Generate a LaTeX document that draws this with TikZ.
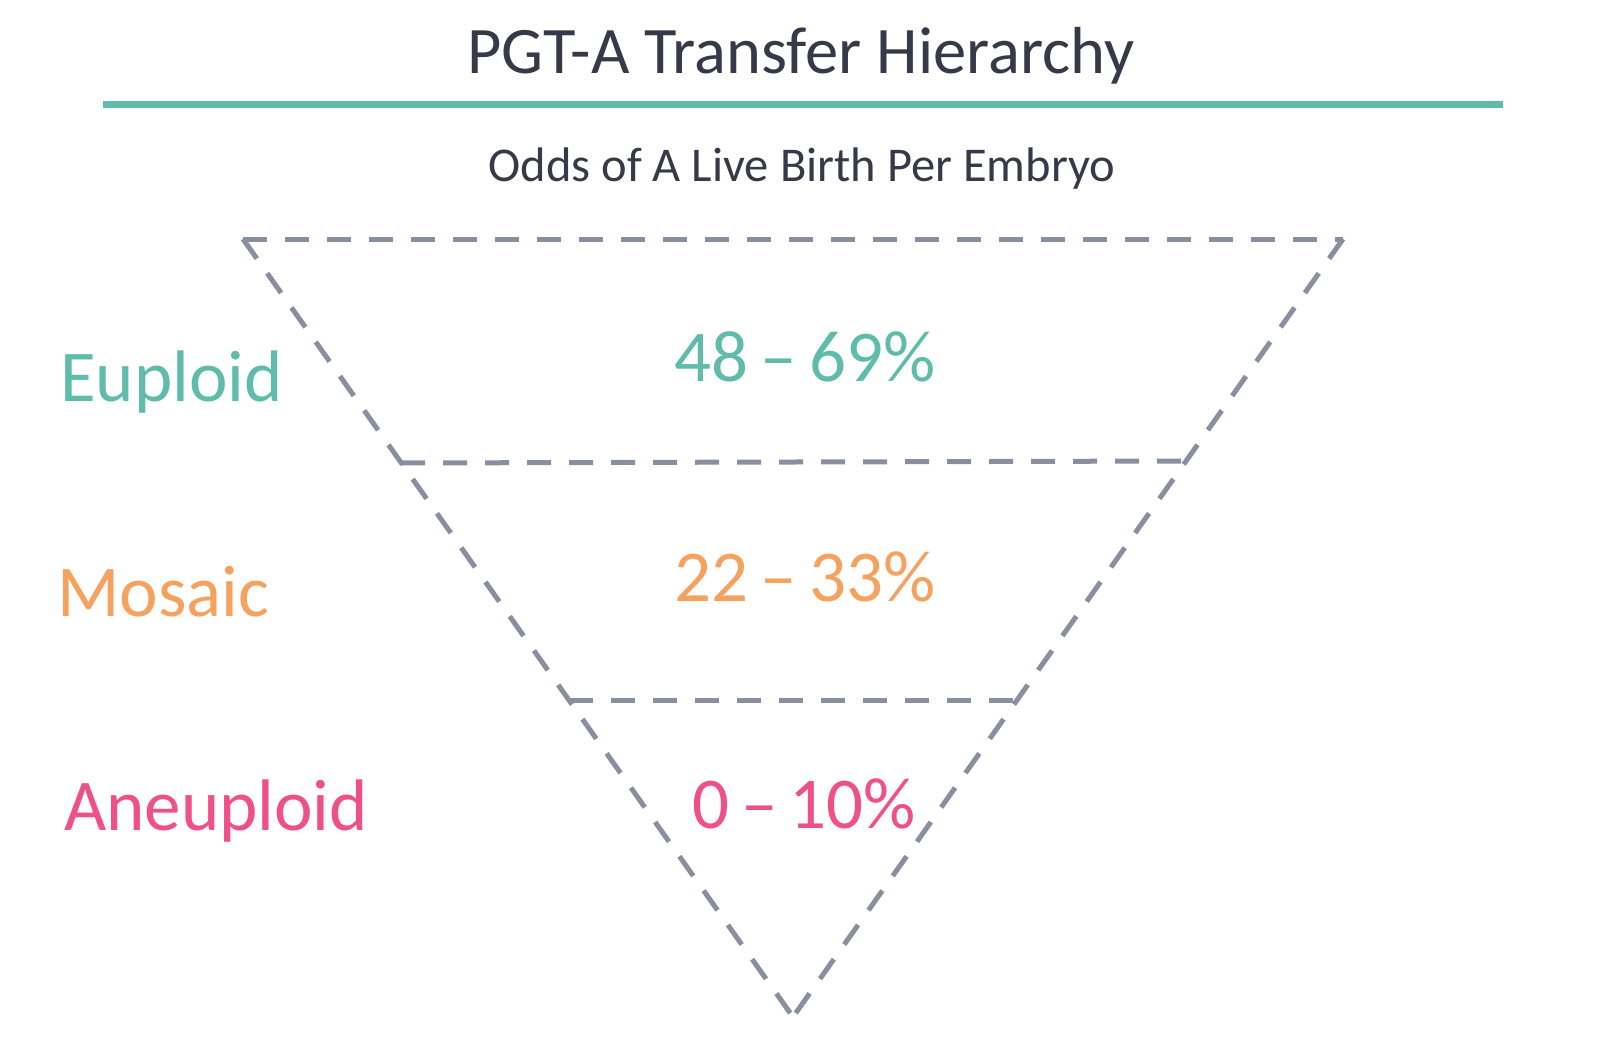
\documentclass[tikz,border=0pt]{standalone}
\usepackage{fontspec}
\setmainfont{Carlito}
\usetikzlibrary{positioning}
\definecolor{titlegray}{HTML}{363A48}
\definecolor{eupgreen}{HTML}{5FBCAA}
\definecolor{mosorange}{HTML}{F5A25F}
\definecolor{anepink}{HTML}{EF5087}
\definecolor{dashgray}{HTML}{8A8FA0}
\begin{document}
\begin{tikzpicture}[x=1pt,y=-1pt,
    funnel/.style={draw=dashgray, line width=5pt, dash pattern=on 24pt off 18pt},
    grade/.style={font=\fontsize{73}{78}\selectfont, anchor=base west, inner sep=0pt},
    odds/.style={font=\fontsize{73}{78}\selectfont, anchor=base, inner sep=0pt}]
  \useasboundingbox (0,0) rectangle (1614,1046);
  % heading
  \node[anchor=base, inner sep=0pt, text=titlegray, font=\fontsize{66.5}{70}\selectfont] (title) at (801,74) {PGT-A Transfer Hierarchy};
  \coordinate (ruleL) at (103,105);
  \coordinate (ruleR) at (1503,105);
  \draw[eupgreen, line width=7pt] (ruleL) -- (ruleR);
  \node[anchor=base, inner sep=0pt, text=titlegray, font=\fontsize{48.5}{52}\selectfont] (sub) at (802,181) {Odds of A Live Birth Per Embryo};
  % funnel corners
  \coordinate (topL) at (243,239);
  \coordinate (topR) at (1343,239);
  \coordinate (tip) at (793,1017);
  \coordinate (midL) at (401,463);
  \coordinate (midR) at (1187,461);
  \coordinate (lowL) at (569,700);
  \coordinate (lowR) at (1017,700);
  \draw[funnel] (topL) -- (topR);
  \draw[funnel] (topL) -- (tip);
  \draw[funnel] (topR) -- (tip);
  \draw[funnel] (midL) -- (midR);
  \draw[funnel] (lowL) -- (lowR);
  % grades
  \node[grade, text=eupgreen] (eup) at (60,401) {Euploid};
  \node[grade, text=mosorange] (mos) at (57,616) {Mosaic};
  \node[grade, text=anepink] (ane) at (64,830) {Aneuploid};
  % odds
  \node[odds, text=eupgreen] (eupodds) at (805,381) {48\,–\,69\%};
  \node[odds, text=mosorange] (mosodds) at (805,601) {22\,–\,33\%};
  \node[odds, text=anepink] (aneodds) at (804,828) {0\,–\,10\%};
\end{tikzpicture}
\end{document}
